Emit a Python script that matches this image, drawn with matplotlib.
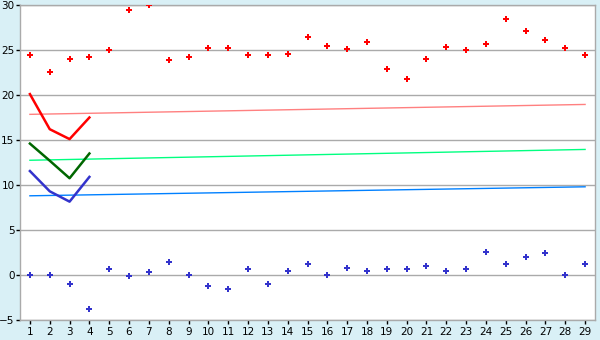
import matplotlib
matplotlib.use("Agg")
import matplotlib.pyplot as plt
import numpy as np

days = list(range(1, 30))
red_points = [24.4, 22.6, 24.0, 24.2, 25.0, 29.4, 30.0, 23.85, 24.2, 25.2,
              25.2, 24.4, 24.4, 24.6, 26.4, 25.4, 25.1, 25.85, 22.85, 21.75,
              24.0, 25.3, 25.0, 25.65, 28.4, 27.1, 26.1, 25.2, 24.4]
blue_points = [0.0, 0.0, -1.0, -3.8, 0.65, -0.15, 0.3, 1.5, 0.0, -1.25,
               -1.6, 0.65, -1.05, 0.4, 1.2, 0.0, 0.75, 0.4, 0.65, 0.65,
               0.95, 0.4, 0.65, 2.6, 1.2, 1.95, 2.4, 0.0, 1.2]
short_x = [1, 2, 3, 4]
red_line = [20.1, 16.2, 15.1, 17.5]
green_line = [14.6, 12.7, 10.75, 13.5]
blue_line = [11.55, 9.3, 8.15, 10.9]
trend_x = [1, 29]
red_trend = [17.85, 18.95]
green_trend = [12.75, 13.95]
blue_trend = [8.8, 9.8]
yticks = [-5, 0, 5, 10, 15, 20, 25, 30]

bg = "#d9f0f6"
fig = plt.figure(figsize=(6, 3.4), dpi=100, facecolor=bg)
ax = fig.add_axes([20/600, 20/340, 575/600, 315/340])
ax.set_facecolor("white")

for y in yticks:
    ax.axhline(y, color="#aaaaaa", lw=1.0, zorder=1)

ax.plot(trend_x, red_trend, color="#ff8080", lw=1.0, zorder=2)
ax.plot(trend_x, green_trend, color="#00ff80", lw=1.0, zorder=2)
ax.plot(trend_x, blue_trend, color="#0080ff", lw=1.0, zorder=2)

ax.plot(short_x, red_line, color="#ff0000", lw=1.8, zorder=3)
ax.plot(short_x, green_line, color="#006600", lw=1.8, zorder=3)
ax.plot(short_x, blue_line, color="#3333cc", lw=1.8, zorder=3)

ax.plot(days, red_points, ls="none", marker="P", ms=5, color="#ff0000",
        mec="#ff0000", mew=0, zorder=4)
ax.plot(days, blue_points, ls="none", marker="P", ms=5, color="#3333cc",
        mec="#3333cc", mew=0, zorder=4)

ax.set_xlim(0.5, 29.5)
ax.set_ylim(-5, 30)
ax.set_xticks(days)
ax.set_yticks(yticks)
for s in ax.spines.values():
    s.set_color("#aaaaaa")
    s.set_linewidth(1.0)
ax.tick_params(axis="both", colors="black", labelsize=7.5, length=3, width=1)
ax.tick_params(axis="y", pad=1)
ax.tick_params(axis="x", pad=2)

fig.savefig("out.png", dpi=100, facecolor=bg)
